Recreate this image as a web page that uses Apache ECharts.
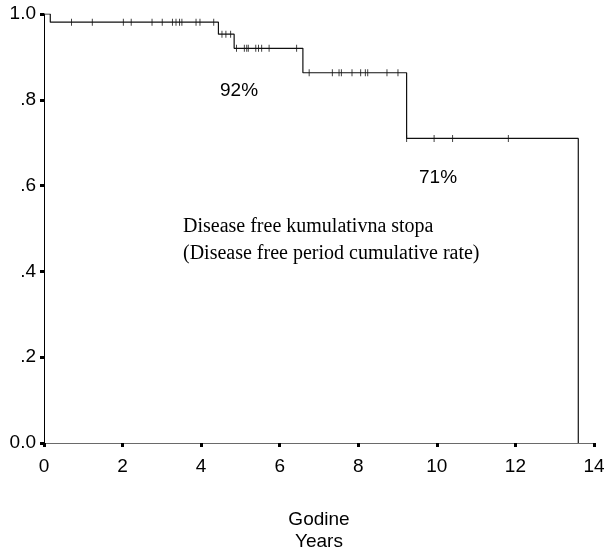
<!DOCTYPE html>
<html>
<head>
<meta charset="utf-8">
<script src="https://cdn.jsdelivr.net/npm/echarts@6/dist/echarts.min.js"></script>
<style>
  html, body { margin: 0; padding: 0; background: #fff; }
  #chart { width: 604px; height: 550px; }
</style>
</head>
<body>
<div id="chart"></div>
<script>
// Kaplan-Meier disease free survival: event times (years) and survival after each step
const eventTimes = [0, 0.16, 4.44, 4.84, 6.59, 9.23, 13.6];
const survival   = [1, 0.981, 0.953, 0.92, 0.863, 0.71, 0];

// censored observations (years)
const censorTimes = [
  0.70, 1.23, 2.02, 2.22, 2.75, 3.01, 3.27, 3.36, 3.45, 3.51, 3.87, 3.97, 4.32,
  4.53, 4.63, 4.75,
  4.90, 5.10, 5.16, 5.20, 5.39, 5.46, 5.54, 5.73, 6.43,
  6.75, 7.34, 7.51, 7.57, 7.84, 8.06, 8.18, 8.24, 8.73, 9.01,
  9.23, 9.93, 10.40, 11.82
];

const yTickLabels = ['0.0', '.2', '.4', '.6', '.8', '1.0'];
const xTitle = ['Godine', 'Years'];
const noteLines = ['Disease free kumulativna stopa', '(Disease free period cumulative rate)'];
const rateLabels = ['92%', '71%'];

// survival level in force at time t (step function)
function survivalAt(t) {
  let s = survival[0];
  for (let i = 0; i < eventTimes.length; i++) {
    if (eventTimes[i] <= t + 1e-9) s = survival[i];
  }
  return s;
}

const curve = eventTimes.map((t, i) => [t, survival[i]]);
const censors = censorTimes.map(t => [t, survivalAt(t)]);

const sans = '"Liberation Sans", Arial, sans-serif';
const serif = '"Liberation Serif", "Times New Roman", serif';

const chart = echarts.init(document.getElementById('chart'));
chart.setOption({
  animation: false,
  backgroundColor: '#fff',
  grid: { left: 44, right: 10, top: 14, bottom: 107, containLabel: false, outerBoundsMode: 'none' },
  xAxis: {
    type: 'value', min: 0, max: 14, interval: 2,
    name: xTitle.join('\n'), nameLocation: 'middle', nameGap: 66,
    nameTextStyle: { fontFamily: sans, fontSize: 19, color: '#000', lineHeight: 22 },
    axisLine: { show: true, lineStyle: { color: '#6a6a6a', width: 1 } },
    axisTick: { show: true, length: 4, lineStyle: { color: '#000', width: 3 } },
    axisLabel: { fontFamily: sans, fontSize: 19, color: '#000', margin: 14 },
    splitLine: { show: false }
  },
  yAxis: {
    type: 'value', min: 0, max: 1, interval: 0.2,
    axisLine: { show: true, lineStyle: { color: '#000', width: 1 } },
    axisTick: { show: true, length: 4, lineStyle: { color: '#000', width: 3 } },
    axisLabel: {
      fontFamily: sans, fontSize: 19, color: '#000', margin: 8,
      formatter: v => yTickLabels[Math.round(v * 5)]
    },
    splitLine: { show: false }
  },
  series: [
    {
      type: 'line', step: 'end', data: curve, symbol: 'none',
      lineStyle: { color: '#111', width: 1.2 }, z: 3
    },
    {
      type: 'scatter', data: censors, symbol: 'rect', symbolSize: [1, 7],
      itemStyle: { color: '#111' }, z: 4
    }
  ],
  graphic: [
    { type: 'text', left: 220, top: 81, style: { text: rateLabels[0], font: '19px ' + sans, fill: '#000' } },
    { type: 'text', left: 419, top: 168, style: { text: rateLabels[1], font: '19px ' + sans, fill: '#000' } },
    { type: 'text', left: 183, top: 217, style: { text: noteLines[0], font: '20px ' + serif, fill: '#000' } },
    { type: 'text', left: 183, top: 244, style: { text: noteLines[1], font: '20px ' + serif, fill: '#000' } }
  ]
});
</script>
</body>
</html>
